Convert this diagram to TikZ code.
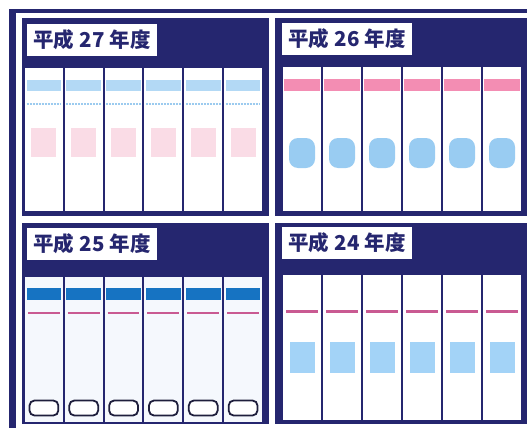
\documentclass[tikz,border=0pt]{standalone}
\usepackage{fontspec}
\newfontfamily\cjk{Noto Sans CJK JP}
\definecolor{navy}{HTML}{25266F}
\definecolor{ltblue}{HTML}{B3D9F5}
\definecolor{dashblue}{HTML}{9CCBEF}
\definecolor{ltpink}{HTML}{FADCE6}
\definecolor{pinkband}{HTML}{F38DB3}
\definecolor{blob}{HTML}{99CCF2}
\definecolor{bluebar}{HTML}{1673C2}
\definecolor{magenta}{HTML}{C95A92}
\definecolor{sqblue}{HTML}{A3D3F7}
\definecolor{paleblue}{HTML}{F5F8FD}
\definecolor{outline}{HTML}{1E1E3C}
\newcommand{\yr}[1]{平成\hspace{0.25em}#1\hspace{0.25em}年度}
\tikzset{
  panel/.style={fill=navy},
  titlebox/.style={fill=white, inner sep=0pt, minimum width=130pt, minimum height=32pt,
    text=navy, font=\cjk\bfseries\fontsize{20.5}{20.5}\selectfont},
  spine/.style={fill=white},
}
\begin{document}
\begin{tikzpicture}[x=1pt,y=-1pt]
\useasboundingbox (0,0) rectangle (527,428);
\fill[white] (0,0) rectangle (527,428);
% outer frame
\fill[navy] (9,9) rectangle (527,13);
\fill[navy] (9,9) rectangle (16,428);
% panels
\fill[panel] (22,18) rectangle (269,216);
\fill[panel] (275,18) rectangle (527,216);
\fill[panel] (22,223) rectangle (269,424);
\fill[panel] (275,223) rectangle (527,424);
% titles
\node[titlebox] (t27) at (92,40) {\yr{27}};
\node[titlebox] (t26) at (347,39) {\yr{26}};
\node[titlebox] (t25) at (92,244) {\yr{25}};
\node[titlebox] (t24) at (347,243) {\yr{24}};
% H27 spines
\foreach \i in {0,...,5}{
  \pgfmathsetmacro{\xs}{25+39.83*\i}
  \pgfmathsetmacro{\xe}{\xs+37.83}
  \pgfmathsetmacro{\xc}{\xs+18.9}
  \fill[spine] (\xs,68) rectangle (\xe,211);
  \fill[ltblue] (\xs+1.5,80) rectangle (\xe-1.5,91);
  \draw[dashblue, line width=1.3pt, dash pattern=on 2pt off 1pt] (\xs+1.5,104) -- (\xe-1.5,104);
  \fill[ltpink] (\xc-12.5,128) rectangle (\xc+12.5,157);
}
% H26 spines
\foreach \i in {0,...,5}{
  \pgfmathsetmacro{\xs}{283+40*\i}
  \pgfmathsetmacro{\xe}{\xs+38}
  \pgfmathsetmacro{\xc}{\xs+19}
  \fill[spine] (\xs,67) rectangle (\xe,211);
  \fill[pinkband] (\xs+1,79) rectangle (\xe-1,91);
  \fill[blob, rounded corners=9pt] (\xc-13,138) rectangle (\xc+13,168);
}
% H25 spines
\foreach \i in {0,...,5}{
  \pgfmathsetmacro{\xs}{25+39.83*\i}
  \pgfmathsetmacro{\xe}{\xs+37.83}
  \fill[paleblue] (\xs,277) rectangle (\xe,421.5);
  \fill[bluebar] (\xs+1.5,288) rectangle (\xe-1.5,300);
  \draw[magenta, line width=2pt] (\xs+3,313) -- (\xe-3,313);
  \draw[outline, fill=white, line width=1.8pt, rounded corners=5pt] (\xs+4.5,400.5) rectangle (\xe-4.5,415.5);
}
% H24 spines
\foreach \i in {0,...,5}{
  \pgfmathsetmacro{\xs}{283+40*\i}
  \pgfmathsetmacro{\xe}{\xs+38}
  \pgfmathsetmacro{\xc}{\xs+19}
  \fill[spine] (\xs,275) rectangle (\xe,420);
  \draw[magenta, line width=2.5pt] (\xs+3,311.5) -- (\xe-3,311.5);
  \fill[sqblue] (\xc-12.5,342) rectangle (\xc+12.5,373);
}
\end{tikzpicture}
\end{document}
